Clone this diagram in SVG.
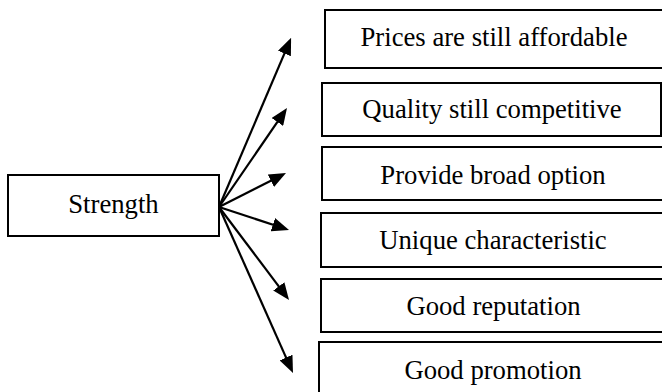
<svg xmlns="http://www.w3.org/2000/svg" width="662" height="392" viewBox="0 0 662 392">
  <style>
    .box { fill: #ffffff; stroke: #000000; stroke-width: 2; }
    .label { font-family: "Liberation Serif", "Times New Roman", serif; font-size: 26.7px; fill: #000000; text-anchor: middle; }
    .link { stroke: #000000; stroke-width: 2.2; fill: none; marker-end: url(#head); }
  </style>
  <defs>
    <marker id="head" markerUnits="userSpaceOnUse" markerWidth="17" markerHeight="14" refX="5" refY="7" orient="auto">
      <path d="M0,0 L17,7 L0,14 Z" fill="#000000"/>
    </marker>
  </defs>
  <rect width="662" height="392" fill="#ffffff"/>

  <g id="strength">
    <rect class="box" x="8" y="175" width="211" height="61"/>
    <text class="label" x="113.5" y="213">Strength</text>
  </g>

  <g id="prices">
    <rect class="box" x="325" y="10" width="340" height="58"/>
    <text class="label" x="494" y="46">Prices are still affordable</text>
  </g>

  <g id="quality">
    <rect class="box" x="322" y="83" width="339" height="53"/>
    <text class="label" x="492" y="118">Quality still competitive</text>
  </g>

  <g id="option">
    <rect class="box" x="322" y="147" width="343" height="53"/>
    <text class="label" x="493" y="184">Provide broad option</text>
  </g>

  <g id="unique">
    <rect class="box" x="321" y="213" width="344" height="54"/>
    <text class="label" x="493" y="249">Unique characteristic</text>
  </g>

  <g id="reputation">
    <rect class="box" x="321" y="279" width="344" height="53"/>
    <text class="label" x="493.5" y="315">Good reputation</text>
  </g>

  <g id="promotion">
    <rect class="box" x="319" y="342" width="346" height="60"/>
    <text class="label" x="493" y="379">Good promotion</text>
  </g>

  <g id="connectors">
    <line class="link" x1="219" y1="207" x2="286.4" y2="48.9"/>
    <line class="link" x1="219" y1="207" x2="280.2" y2="117.9"/>
    <line class="link" x1="219" y1="207" x2="275.3" y2="178.4"/>
    <line class="link" x1="219" y1="207" x2="277.6" y2="226.3"/>
    <line class="link" x1="219" y1="207" x2="281.8" y2="290.4"/>
    <line class="link" x1="219" y1="207" x2="288.1" y2="362.1"/>
  </g>
</svg>
